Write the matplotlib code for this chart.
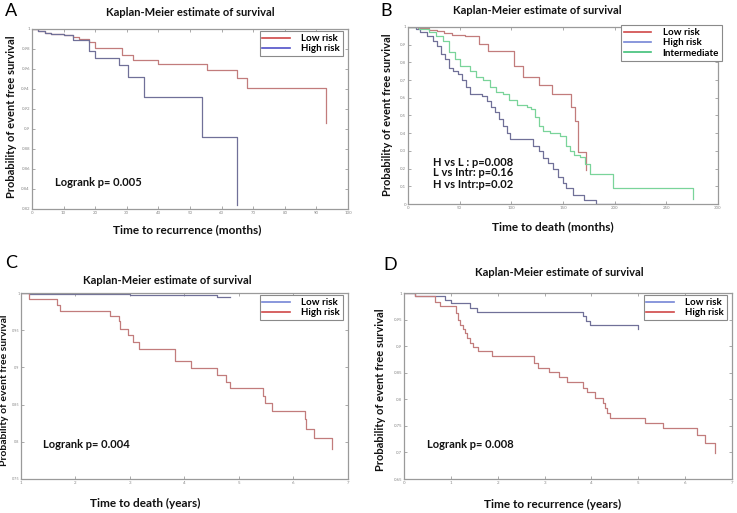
import matplotlib
matplotlib.use('agg')
import matplotlib.pyplot as plt
from matplotlib.lines import Line2D
import numpy as np

plt.rcParams['font.family'] = ['Lato', 'DejaVu Sans']

# ---- panel A: time to recurrence (months)
a_low_t = [0, 2, 4, 6, 10, 13, 15, 18, 20, 28.4, 31.9, 40, 55.3, 64.9, 68, 93]
a_low_s = [1, 0.998, 0.996, 0.995, 0.994, 0.992, 0.990, 0.987, 0.9815, 0.974, 0.969, 0.965, 0.959, 0.951, 0.941, 0.906]
a_high_t = [0, 2, 4, 6, 10, 13, 18, 20, 27.5, 30.5, 35.5, 53.8, 64.9]
a_high_s = [1, 0.998, 0.996, 0.995, 0.994, 0.989, 0.978, 0.9715, 0.964, 0.952, 0.932, 0.892, 0.824]

# ---- panel B: time to death (months)
b_low_t = [0, 10, 20, 28, 35, 43, 55, 69, 77, 103, 111, 127, 139, 158, 162, 164.5, 172.5]
b_low_s = [1, 0.995, 0.985, 0.975, 0.965, 0.955, 0.95, 0.905, 0.863, 0.78, 0.716, 0.67, 0.624, 0.55, 0.47, 0.293, 0.19]
b_high_t = [0, 8, 12, 18, 24, 28, 32, 36, 40, 44, 48, 52, 56, 60, 72, 76, 80, 84, 88, 92, 96, 99,
            121, 127, 131, 135, 140, 145, 150, 153, 160, 170, 182, 224]
b_high_s = [1, 0.99, 0.97, 0.95, 0.92, 0.89, 0.85, 0.82, 0.77, 0.75, 0.735, 0.70, 0.66, 0.62, 0.61, 0.58,
            0.55, 0.52, 0.48, 0.44, 0.40, 0.365, 0.33, 0.30, 0.26, 0.23, 0.20, 0.15, 0.12, 0.09, 0.05,
            0.025, 0.0, 0.0]
b_int_t = [0, 11, 20, 27, 34, 40, 45, 50, 60, 66, 73, 79, 85, 92, 98, 105, 115, 119, 123, 127, 131,
           137, 147, 153, 157, 161, 166, 171, 176, 198, 276]
b_int_s = [1, 0.99, 0.97, 0.95, 0.92, 0.86, 0.82, 0.78, 0.75, 0.72, 0.70, 0.66, 0.635, 0.62, 0.59,
           0.56, 0.55, 0.535, 0.49, 0.44, 0.41, 0.40, 0.387, 0.33, 0.30, 0.275, 0.265, 0.227, 0.171,
           0.092, 0.03]

# ---- panel C: time to death (years)
c_low_t = [1.0, 1.15, 2.4, 3.0, 4.6, 4.7, 4.83]
c_low_s = [1.0, 0.999, 0.998, 0.997, 0.995, 0.9945, 0.994]
c_high_t = [1.0, 1.14, 1.66, 1.71, 2.64, 2.79, 2.82, 2.97, 3.05, 3.17, 3.83, 4.12, 4.59, 4.76, 4.83,
            5.44, 5.47, 5.6, 6.21, 6.23, 6.37, 6.7]
c_high_s = [1.0, 0.992, 0.984, 0.976, 0.969, 0.962, 0.951, 0.943, 0.934, 0.925, 0.908, 0.899, 0.89,
            0.881, 0.872, 0.862, 0.852, 0.842, 0.83, 0.817, 0.805, 0.79]

# ---- panel D: time to recurrence (years)
d_low_t = [0, 0.23, 0.87, 1.01, 1.4, 1.55, 3.83, 3.88, 3.98, 5.0]
d_low_s = [1, 0.994, 0.987, 0.981, 0.972, 0.965, 0.956, 0.948, 0.94, 0.933]
d_high_t = [0, 0.23, 0.66, 0.76, 1.1, 1.15, 1.2, 1.25, 1.3, 1.35, 1.4, 1.47, 1.57, 1.87, 2.78, 2.87,
            3.1, 3.3, 3.47, 3.82, 3.9, 4.07, 4.25, 4.28, 4.33, 4.4, 5.14, 5.52, 6.25, 6.43, 6.64]
d_high_s = [1, 0.994, 0.984, 0.975, 0.962, 0.95, 0.94, 0.932, 0.924, 0.915, 0.906, 0.898, 0.89, 0.881,
            0.868, 0.859, 0.851, 0.841, 0.832, 0.822, 0.813, 0.803, 0.793, 0.783, 0.774, 0.765, 0.756,
            0.746, 0.732, 0.717, 0.699]

RED = '#c27c7c'
BLUE = '#707098'
GREEN = '#7ad49a'
LEG_RED = '#d04848'
LEG_BLUE = '#5050c8'
LEG_BLUE2 = '#7585d5'
LEG_GREEN = '#40c078'

W, H = 737.0, 513.0
fig = plt.figure(figsize=(7.37, 5.13), dpi=100)


def make_axes(l, r, t, b):
    return fig.add_axes([l / W, 1 - b / H, (r - l) / W, (b - t) / H])


def style(ax, xlim, ylim, xt, yt, ylabs):
    ax.set_xlim(*xlim)
    ax.set_ylim(*ylim)
    ax.set_xticks(xt)
    ax.set_yticks(yt)
    ax.set_yticklabels(ylabs)
    ax.tick_params(direction='in', length=2.5, width=0.5, labelsize=3.2,
                   colors='#888888', top=True, right=True, pad=1.5)
    for sp in ax.spines.values():
        sp.set_color('#9a9a9a')
        sp.set_linewidth(0.9)


def legend(ax, items, loc_px, size):
    handles = [Line2D([], [], color=c, lw=1.2) for c, _ in items]
    labels = [lab for _, lab in items]
    lg = ax.legend(handles, labels, loc='upper right', bbox_to_anchor=loc_px,
                   bbox_transform=fig.transFigure, fancybox=False, framealpha=1,
                   edgecolor='#8a8a8a', prop={'weight': 'bold', 'size': size},
                   handlelength=2.8, handletextpad=1.2, borderpad=0.3, labelspacing=0.15,
                   borderaxespad=0)
    lg.get_frame().set_linewidth(0.8)


def km(ax, t, s, color):
    ax.step(t, s, where='post', color=color, lw=0.9)


bold = dict(fontweight='bold', color='#111111')

# A
axA = make_axes(32, 348, 29, 209)
km(axA, a_low_t, a_low_s, RED)
km(axA, a_high_t, a_high_s, BLUE)
style(axA, (0, 100), (0.82, 1.0), np.arange(0, 101, 10), np.arange(0.82, 1.001, 0.02),
      ['0.82', '0.84', '0.86', '0.88', '0.9', '0.92', '0.94', '0.96', '0.98', '1'])
legend(axA, [(LEG_RED, 'Low risk'), (LEG_BLUE, 'High risk')], (343 / W, 1 - 31 / H), 7)
fig.text(55 / W, 1 - 182 / H, 'Logrank p= 0.005', fontsize=8, va='center', **bold)
fig.text(190 / W, 1 - 13 / H, 'Kaplan-Meier estimate of survival', fontsize=8, ha='center', va='center', **bold)
fig.text(187 / W, 1 - 230 / H, 'Time to recurrence (months)', fontsize=8.5, ha='center', va='center', **bold)
fig.text(12 / W, 1 - 117 / H, 'Probability of event free survival', fontsize=8, rotation=90,
         ha='center', va='center', **bold)
fig.text(11 / W, 1 - 11 / H, 'A', fontsize=13, ha='center', va='center')

# B
axB = make_axes(408, 718, 27, 204)
km(axB, b_low_t, b_low_s, RED)
km(axB, b_high_t, b_high_s, BLUE)
km(axB, b_int_t, b_int_s, GREEN)
style(axB, (0, 300), (0, 1), np.arange(0, 301, 50), np.arange(0, 1.001, 0.1),
      ['0', '0.1', '0.2', '0.3', '0.4', '0.5', '0.6', '0.7', '0.8', '0.9', '1'])
legend(axB, [(LEG_RED, 'Low risk'), (LEG_BLUE2, 'High risk'), (LEG_GREEN, 'Intermediate')],
       (722 / W, 1 - 25 / H), 7)
for i, s in enumerate(['H vs L : p=0.008', 'L vs Intr: p=0.16', 'H vs Intr:p=0.02']):
    fig.text(433 / W, 1 - (162 + 11 * i) / H, s, fontsize=8, va='center', **bold)
fig.text(537 / W, 1 - 10 / H, 'Kaplan-Meier estimate of survival', fontsize=8, ha='center', va='center', **bold)
fig.text(553 / W, 1 - 227 / H, 'Time to death (months)', fontsize=8.5, ha='center', va='center', **bold)
fig.text(387 / W, 1 - 115 / H, 'Probability of event free survival', fontsize=8, rotation=90,
         ha='center', va='center', **bold)
fig.text(386 / W, 1 - 11 / H, 'B', fontsize=13, ha='center', va='center')

# C
axC = make_axes(21, 348, 293, 479)
km(axC, c_low_t, c_low_s, BLUE)
km(axC, c_high_t, c_high_s, RED)
style(axC, (1, 7), (0.75, 1.0), np.arange(1, 8, 1), np.arange(0.75, 1.001, 0.05),
      ['0.75', '0.8', '0.85', '0.9', '0.95', '1'])
axC.tick_params(axis='y', labelsize=2.8, pad=1)
legend(axC, [(LEG_BLUE2, 'Low risk'), (LEG_RED, 'High risk')], (343 / W, 1 - 295 / H), 7)
fig.text(43 / W, 1 - 444 / H, 'Logrank p= 0.004', fontsize=8, va='center', **bold)
fig.text(167 / W, 1 - 281 / H, 'Kaplan-Meier estimate of survival', fontsize=8, ha='center', va='center', **bold)
fig.text(145 / W, 1 - 503 / H, 'Time to death (years)', fontsize=8.5, ha='center', va='center', **bold)
fig.text(5 / W, 1 - 390 / H, 'Probability of event free survival', fontsize=7.5, rotation=90,
         ha='center', va='center', **bold)
fig.text(11 / W, 1 - 263 / H, 'C', fontsize=13, ha='center', va='center')

# D
axD = make_axes(404, 732, 293, 479)
km(axD, d_low_t, d_low_s, BLUE)
km(axD, d_high_t, d_high_s, RED)
style(axD, (0, 7), (0.65, 1.0), np.arange(0, 8, 1), np.arange(0.65, 1.001, 0.05),
      ['0.65', '0.7', '0.75', '0.8', '0.85', '0.9', '0.95', '1'])
legend(axD, [(LEG_BLUE2, 'Low risk'), (LEG_RED, 'High risk')], (727 / W, 1 - 295 / H), 7)
fig.text(427 / W, 1 - 444 / H, 'Logrank p= 0.008', fontsize=8, va='center', **bold)
fig.text(559 / W, 1 - 272 / H, 'Kaplan-Meier estimate of survival', fontsize=8, ha='center', va='center', **bold)
fig.text(553 / W, 1 - 504 / H, 'Time to recurrence (years)', fontsize=8.5, ha='center', va='center', **bold)
fig.text(380 / W, 1 - 390 / H, 'Probability of event free survival', fontsize=8, rotation=90,
         ha='center', va='center', **bold)
fig.text(390 / W, 1 - 265 / H, 'D', fontsize=13, ha='center', va='center')

fig.savefig('out.png', dpi=100, facecolor='white')
